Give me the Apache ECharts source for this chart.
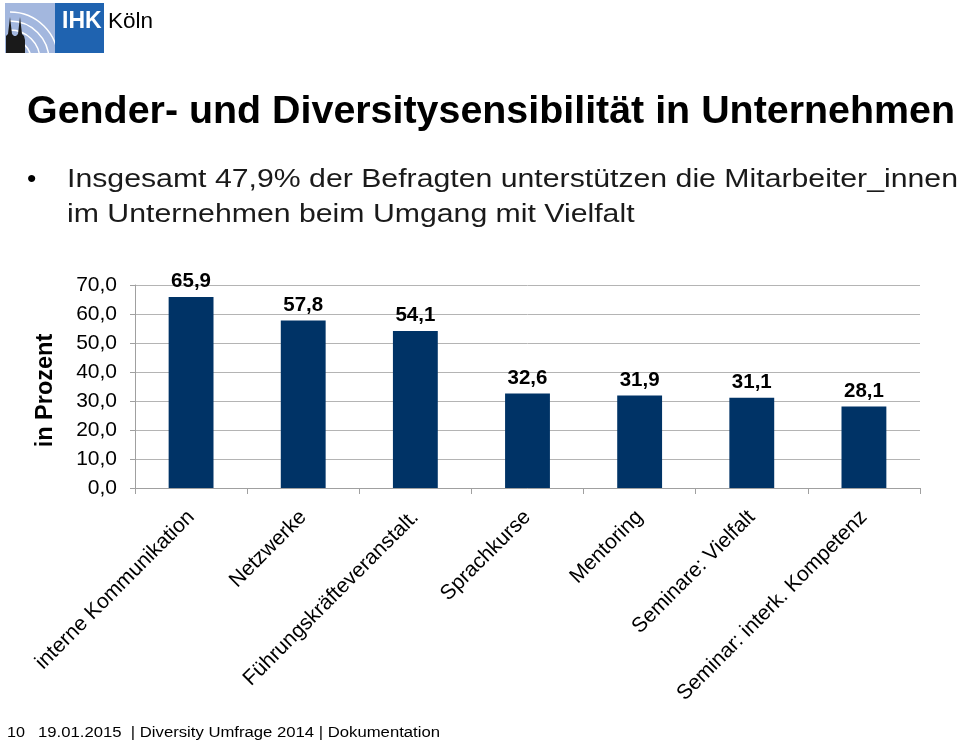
<!DOCTYPE html>
<html><head><meta charset="utf-8">
<script src="https://cdn.jsdelivr.net/npm/echarts@6/dist/echarts.min.js"></script>
<style>html,body{margin:0;padding:0;background:#fff}#c{width:960px;height:741px}</style>
</head><body><div id="c"></div>
<script>
var categories = ['interne Kommunikation','Netzwerke','Führungskräfteveranstalt.','Sprachkurse','Mentoring','Seminare: Vielfalt','Seminar: interk. Kompetenz'];
var values = [65.9, 57.8, 54.1, 32.6, 31.9, 31.1, 28.1];
var yTicks = [0,10,20,30,40,50,60,70];
var title = 'Gender- und Diversitysensibilität in Unternehmen';
var bulletLines = ['Insgesamt 47,9% der Befragten unterstützen die Mitarbeiter_innen','im Unternehmen beim Umgang mit Vielfalt'];
var footerPage = '10';
var footerText = '19.01.2015  | Diversity Umfrage 2014 | Dokumentation';

var F = '"Liberation Sans", Arial, Helvetica, sans-serif';
function fmt(v){ return v.toFixed(1).replace('.', ','); }
var mctx = document.createElement('canvas').getContext('2d');
function measure(t, font){ mctx.font = font; return mctx.measureText(t).width; }
// text placed with its bottom at y, stretched horizontally to a target width
function txt(t, x, y, font, color, targetW, sx){
  var s = sx || (targetW ? targetW / measure(t, font) : 1);
  return {type:'text', x:x, y:y, scaleX:s, scaleY:1,
    style:{text:t, x:0, y:0, fill:color, font:font, textAlign:'left', verticalAlign:'bottom'}, z:5};
}

var titleFont = 'bold 39px ' + F;
var bulletFont = '26.5px ' + F;
var bulletScale = 891 / measure(bulletLines[0], bulletFont);
var footFont = '14px ' + F;

var chart = echarts.init(document.getElementById('c'), null, {renderer:'canvas'});
var arcs = [];
[12,21,30,39,48].forEach(function(r){
  arcs.push({type:'arc', shape:{cx:10, cy:60, r:r, startAngle:-Math.PI/2, endAngle:0}, style:{stroke:'#ffffff', lineWidth:1.5, fill:null}, z:2});
});
chart.setOption({
  animation:false,
  grid:{left:135, right:40, top:285, bottom:253},
  xAxis:{
    type:'category', data:categories,
    axisLine:{lineStyle:{color:'#a0a0a0', width:1}},
    axisTick:{show:true, alignWithLabel:false, length:6, lineStyle:{color:'#a0a0a0'}},
    axisLabel:{rotate:45, interval:0, margin:26, fontFamily:F, fontSize:21, color:'#000'}
  },
  yAxis:{
    type:'value', min:yTicks[0], max:yTicks[yTicks.length-1], interval:10,
    name:'in Prozent', nameLocation:'middle', nameGap:77, nameRotate:90,
    nameTextStyle:{fontFamily:F, fontSize:23.5, fontWeight:'bold', color:'#000', padding:[0,0,0,-8]},
    axisLine:{show:true, lineStyle:{color:'#a0a0a0'}},
    axisTick:{show:true, length:5, lineStyle:{color:'#a0a0a0'}},
    axisLabel:{formatter:function(v){return fmt(v);}, fontFamily:F, fontSize:21, color:'#000', margin:18},
    splitLine:{lineStyle:{color:'#b4b4b4', width:1}}
  },
  series:[{
    type:'bar', data:values, barWidth:'40%',
    itemStyle:{color:'#003366'},
    label:{show:true, position:'top', formatter:function(p){return fmt(p.value);}, fontFamily:F, fontSize:20.5, fontWeight:'bold', color:'#000', distance:5}
  }],
  graphic:[
    {type:'rect', shape:{x:5,y:3,width:50,height:50}, style:{fill:'#a3b7de'}, z:1},
    {type:'group', children:arcs},
    {type:'rect', shape:{x:55,y:3,width:49,height:50}, style:{fill:'#1f63b0'}, z:3},
    {type:'polygon', shape:{points:[[6,53],[6,36],[8,34],[10,17],[12,34],[14,36],[16,36],[18,34],[20,17],[22,34],[24,36],[25,40],[25,53]]}, style:{fill:'#1a1a1a'}, z:4},
    txt('IHK', 62, 33, 'bold 23px ' + F, '#ffffff'),
    txt('Köln', 108, 33, '22.5px ' + F, '#000000'),
    txt(title, 27, 132, titleFont, '#000', 928),
    txt('•', 27, 193, bulletFont, '#000'),
    txt(bulletLines[0], 67, 193, bulletFont, '#1a1a1a', null, bulletScale),
    txt(bulletLines[1], 67, 228, bulletFont, '#1a1a1a', null, bulletScale),
    txt(footerPage, 7, 740, footFont, '#000', 18),
    txt(footerText, 38, 740, footFont, '#000', 402)
  ]
});
</script></body></html>
